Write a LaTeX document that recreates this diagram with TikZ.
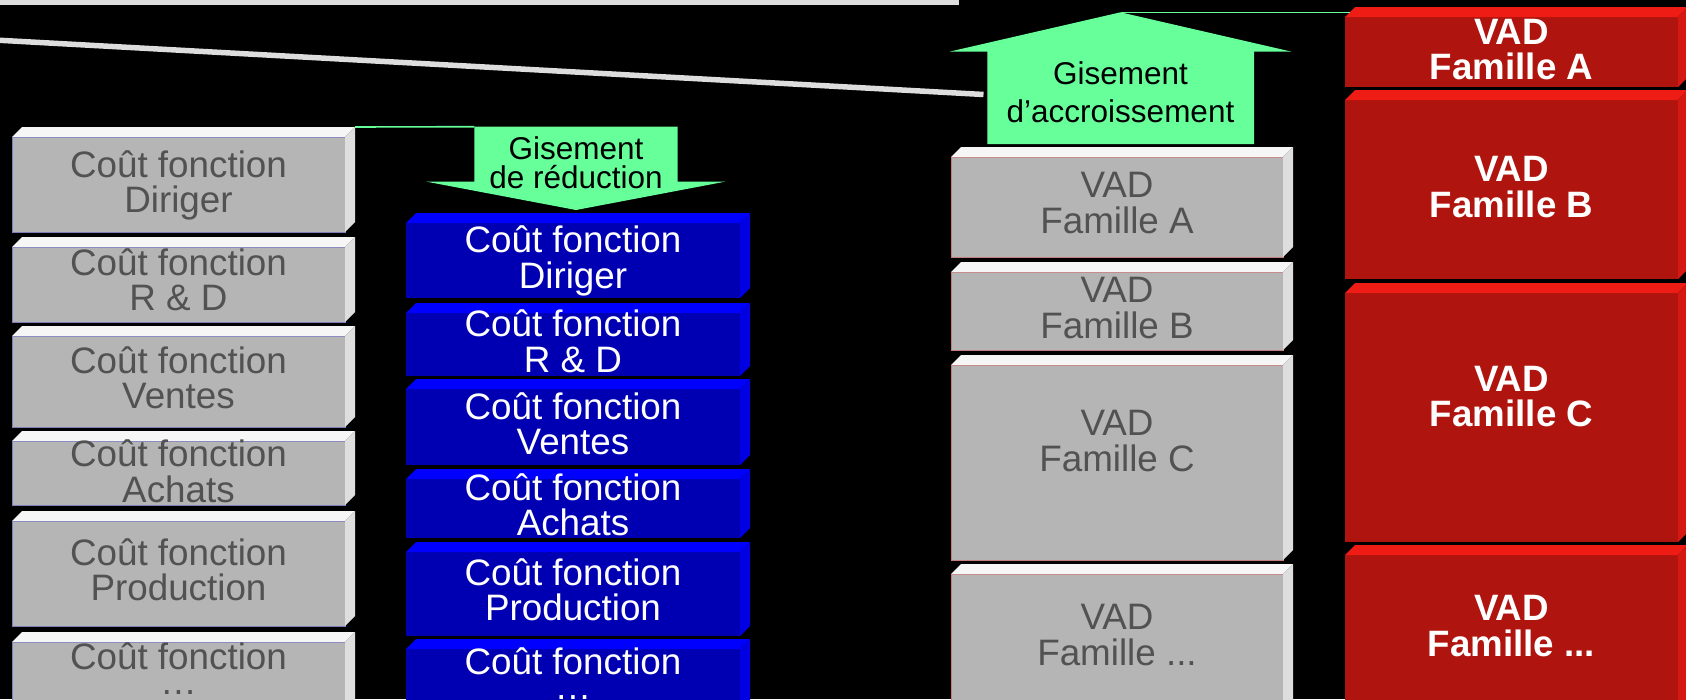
\documentclass[tikz,border=0pt]{standalone}
\usepackage{fontspec}
\setmainfont{Liberation Sans}
\usetikzlibrary{calc}
\definecolor{gfront}{RGB}{181,181,181}
\definecolor{gtop}{RGB}{246,246,246}
\definecolor{gside}{RGB}{222,222,222}
\definecolor{gtxt}{RGB}{82,82,82}
\definecolor{goutl}{RGB}{125,125,185}
\definecolor{voutl}{RGB}{195,125,125}
\definecolor{bfront}{RGB}{0,0,178}
\definecolor{btop}{RGB}{0,0,255}
\definecolor{bside}{RGB}{0,0,226}
\definecolor{rfront}{RGB}{175,20,14}
\definecolor{rtop}{RGB}{238,28,20}
\definecolor{rside}{RGB}{214,24,18}
\definecolor{gis}{RGB}{102,255,153}
\definecolor{rulec}{RGB}{221,221,221}
% strut: 0.95em above the baseline, 0.25em below
\newcommand{\tst}{\rule[-0.25em]{0pt}{1.2em}}
\lineskiplimit=-\maxdimen
% draws the top and right faces of a slab whose front is node #1
\newcommand{\slabfaces}[3]{%
  \fill[#2] (#1.north west) -- ++(10,-10) -- ($(#1.north east)+(10,-10)$) -- (#1.north east) -- cycle;
  \fill[#3] (#1.north east) -- ++(10,-10) -- ($(#1.south east)+(10,-10)$) -- (#1.south east) -- cycle;
}
% \slab{name}{style}{x1}{y1}{x2}{y2}
\newcommand{\slab}[6]{%
  \node[#2, minimum width={#5-#3}, minimum height={#6-#4}] (#1) at (#3,#4) {};
}
\tikzset{
  slabbox/.style={rectangle, inner sep=0pt, outer sep=0pt, anchor=north west},
  gslab/.style={slabbox, fill=gfront, draw=goutl, line width=0.6pt},
  vslab/.style={slabbox, fill=gfront, draw=voutl, line width=0.6pt},
  bslab/.style={slabbox, fill=bfront},
  rslab/.style={slabbox, fill=rfront},
  boxtext/.style={inner sep=0pt, outer sep=0pt, align=center,
    font=\fontsize{36.8}{35.5}\selectfont},
  tightlines/.style={font=\fontsize{36.8}{25}\selectfont},
  gtext/.style={boxtext, text=gtxt},
  wtext/.style={boxtext, text=white},
  rtext/.style={inner sep=0pt, outer sep=0pt, align=center, text=white,
    font=\fontsize{36.7}{35.7}\selectfont\bfseries},
  vtext/.style={inner sep=0pt, outer sep=0pt, align=center, text=gtxt,
    font=\fontsize{36.8}{36}\selectfont},
  arrtext/.style={inner sep=0pt, outer sep=0pt, align=center, text=black},
  gislink/.style={draw=gis, line width=1.6pt},
}
\begin{document}
\begin{tikzpicture}[x=1pt,y=-1pt]
\useasboundingbox (0,0) rectangle (1686,699);
\fill[black] (0,0) rectangle (1686,699);
\clip (0,0) rectangle (1686,699);

% light grey rules
\fill[rulec] (0,-5) rectangle (959,5);
\coordinate (diagA) at (-20,39.2);
\coordinate (diagB) at (983.5,94.5);
\draw[rulec, line width=5.5pt] (diagA) -- (diagB);

% ---- left column: grey costs
\slab{g1}{gslab}{12}{137}{345}{232}
\slab{g2}{gslab}{12}{247}{345}{322}
\slab{g3}{gslab}{12}{336}{345}{427}
\slab{g4}{gslab}{12}{441}{345}{505}
\slab{g5}{gslab}{12}{521}{345}{626}
\slab{g6}{gslab}{12}{642}{345}{760}
\foreach \n in {g1,g2,g3,g4,g5,g6} {\slabfaces{\n}{gtop}{gside}}
\node[gtext] (g1t) at (178.5,181.9) {\tst Coût fonction\\\tst Diriger};
\node[gtext] (g2t) at (178.5,279.9) {\tst Coût fonction\\\tst R \& D};
\node[gtext] (g3t) at (178.5,378.2) {\tst Coût fonction\\\tst Ventes};
\node[gtext] (g4t) at (178.5,471.6) {\tst Coût fonction\\\tst Achats};
\node[gtext] (g5t) at (178.5,569.9) {\tst Coût fonction\\\tst Production};
\node[gtext, tightlines] (g6t) at (178.5,669.6) {\tst Coût fonction\\\tst …};

% ---- blue column: reduced costs
\slab{b1}{bslab}{406}{223}{740}{298}
\slab{b2}{bslab}{406}{313}{740}{376}
\slab{b3}{bslab}{406}{389}{740}{465}
\slab{b4}{bslab}{406}{479}{740}{538}
\slab{b5}{bslab}{406}{552}{740}{636}
\slab{b6}{bslab}{406}{649}{740}{760}
\foreach \n in {b1,b2,b3,b4,b5,b6} {\slabfaces{\n}{btop}{bside}}
\node[wtext] (b1t) at (573,257.6) {\tst Coût fonction\\\tst Diriger};
\node[wtext] (b2t) at (573,341.6) {\tst Coût fonction\\\tst R \& D};
\node[wtext] (b3t) at (573,423.9) {\tst Coût fonction\\\tst Ventes};
\node[wtext] (b4t) at (573,504.9) {\tst Coût fonction\\\tst Achats};
\node[wtext] (b5t) at (573,589.9) {\tst Coût fonction\\\tst Production};
\node[wtext, tightlines] (b6t) at (573,673.9) {\tst Coût fonction\\\tst …};

% ---- grey VAD column
\slab{v1}{vslab}{951}{157}{1283}{257}
\slab{v2}{vslab}{951}{272}{1283}{350}
\slab{v3}{vslab}{951}{365}{1283}{560}
\slab{v4}{vslab}{951}{574}{1283}{760}
\foreach \n in {v1,v2,v3,v4} {\slabfaces{\n}{gtop}{gside}}
\node[vtext] (v1t) at (1117,202.4) {\tst VAD\\\tst Famille A};
\node[vtext] (v2t) at (1117,307.8) {\tst VAD\\\tst Famille B};
\node[vtext] (v3t) at (1117,441.1) {\tst VAD\\\tst Famille C};
\node[vtext] (v4t) at (1117,634.4) {\tst VAD\\\tst Famille ...};

% ---- red VAD column
\slab{r1}{rslab}{1345}{17}{1678}{87}
\slab{r2}{rslab}{1345}{100}{1678}{279}
\slab{r3}{rslab}{1345}{293}{1678}{542}
\slab{r4}{rslab}{1345}{555}{1678}{760}
\foreach \n in {r1,r2,r3,r4} {\slabfaces{\n}{rtop}{rside}}
\node[rtext] (r1t) at (1511.5,49.3) {\tst VAD\\\tst Famille A};
\node[rtext] (r2t) at (1511.5,186.7) {\tst VAD\\\tst Famille B};
\node[rtext] (r3t) at (1511.5,396) {\tst VAD\\\tst Famille C};
\node[rtext] (r4t) at (1511.5,625.7) {\tst VAD\\\tst Famille ...};

% ---- down arrow: Gisement de reduction
\coordinate (dntl) at (474.3,126.7);
\coordinate (dntr) at (677.7,126.7);
\coordinate (dnbr) at (677.7,181.7);
\coordinate (dnhr) at (725,181.7);
\coordinate (dntip) at (576,210);
\coordinate (dnhl) at (426.7,181.7);
\coordinate (dnbl) at (474.3,181.7);
\fill[gis] (dntl) -- (dntr) -- (dnbr) -- (dnhr) -- (dntip) -- (dnhl) -- (dnbl) -- cycle;
\node[arrtext, font=\fontsize{31.5}{28.3}\selectfont] (dnt) at (576,163.1)
  {\tst Gisement\\\tst de réduction};

% ---- up arrow: Gisement d'accroissement
\coordinate (upbl) at (987.3,144);
\coordinate (upbr) at (1254,144);
\coordinate (upsr) at (1254,51.7);
\coordinate (uphr) at (1291.7,51.7);
\coordinate (uptip) at (1120.5,12.3);
\coordinate (uphl) at (949.3,51.7);
\coordinate (upsl) at (987.3,51.7);
\fill[gis] (upbl) -- (upbr) -- (upsr) -- (uphr) -- (uptip) -- (uphl) -- (upsl) -- cycle;
\node[arrtext, font=\fontsize{31.5}{37.7}\selectfont] (upt) at (1120.5,92.8)
  {\tst Gisement\\\tst d’accroissement};

% ---- green links
\coordinate (g1back) at ($(g1.north east)+(10,-10)$);
\draw[gislink] (g1back) -- (dntl);
\coordinate (r1edge) at ($(r1.north west)+(5,-4.7)$);
\draw[gislink] (uptip) -- (uptip -| r1edge);
\end{tikzpicture}
\end{document}
